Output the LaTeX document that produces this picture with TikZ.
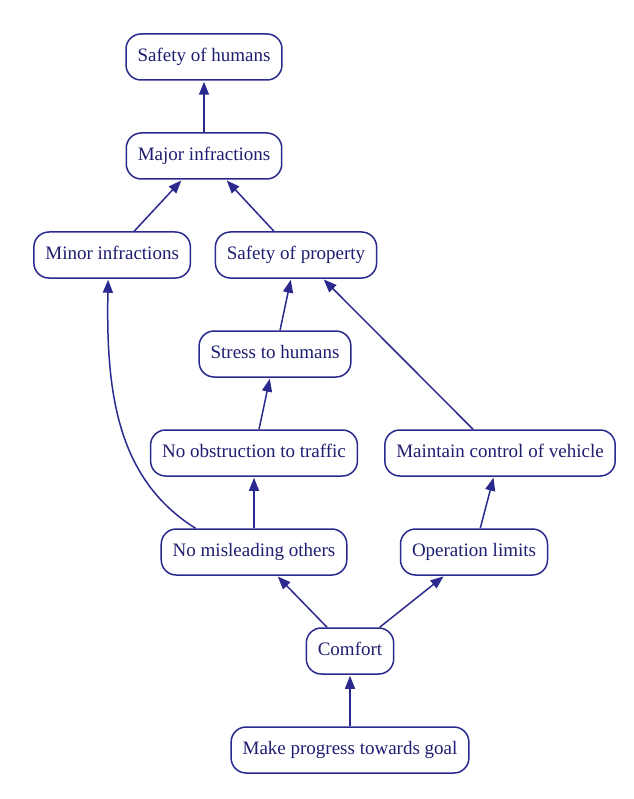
\documentclass[tikz,border=0pt]{standalone}
\usepackage{fontspec}
\setmainfont{Liberation Serif}
\usetikzlibrary{positioning,arrows.meta}
\usepackage{xcolor}
\definecolor{graphnavy}{HTML}{2A2A8E}
\definecolor{textnavy}{HTML}{1E1E70}

\begin{document}
\begin{tikzpicture}[
  x=1pt, y=1pt,
  node distance=51.5pt,
  box/.style={draw=graphnavy, line width=1.5pt, rounded corners=15pt,
              fill=white, text=textnavy,
              minimum height=46pt, inner xsep=11.5pt, inner ysep=0pt,
              text height=13pt, text depth=4pt,
              font=\fontsize{19}{23}\selectfont, align=center},
  arrow/.style={-{Triangle[length=13pt,width=10pt]}, line width=1.5pt,
                color=graphnavy, shorten >=1pt}
]
  \useasboundingbox (0,0) rectangle (633,-799);

  \node[box] (goal) at (350,-750) {Make progress towards goal};
  \node[box, above=of goal] (comfort) {Comfort};
  \node[box, above=of comfort, xshift=-96pt] (mislead) {No misleading others};
  \node[box, above=of comfort, xshift=124pt] (limits) {Operation limits};
  \node[box, above=of mislead] (obstruct) {No obstruction to traffic};
  \node[box, above=of limits, xshift=26pt] (control) {Maintain control of vehicle};
  \node[box, above=of obstruct, xshift=21pt] (stress) {Stress to humans};
  \node[box, above=of stress, xshift=21pt] (property) {Safety of property};
  \node[box, left=23.5pt of property] (minor) {Minor infractions};
  \node[box, above=of property, xshift=-92pt] (major) {Major infractions};
  \node[box, above=of major] (humans) {Safety of humans};

  \draw[arrow] (goal)     -- (comfort);
  \draw[arrow] (comfort)  -- (mislead);
  \draw[arrow] (comfort)  -- (limits);
  \draw[arrow] (mislead)  -- (obstruct);
  \draw[arrow] (limits)   -- (control);
  \draw[arrow] (obstruct) -- (stress);
  \draw[arrow] (stress)   -- (property);
  \draw[arrow] ([xshift=-27pt]control.north) -- ([xshift=27pt]property.south);
  \draw[arrow] ([xshift=35pt]mislead.north west)
        .. controls +(-80pt,50pt) and +(-2pt,-110pt) .. ([xshift=-4pt]minor.south);
  \draw[arrow] (minor)    -- (major);
  \draw[arrow] (property) -- (major);
  \draw[arrow] (major)    -- (humans);
\end{tikzpicture}
\end{document}
